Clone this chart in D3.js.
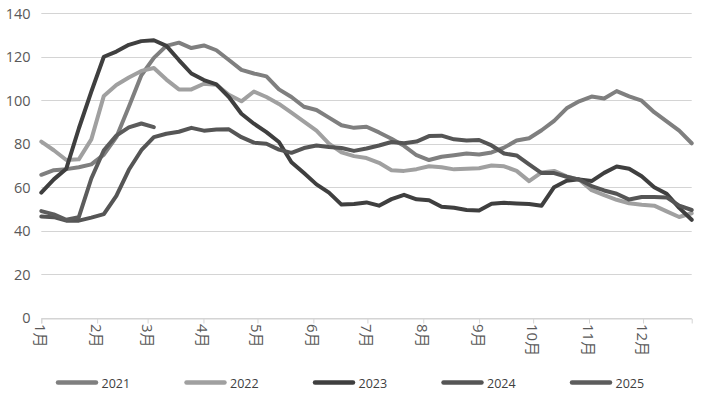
<!DOCTYPE html>
<html>
<head>
<meta charset="utf-8">
<script src="https://cdn.jsdelivr.net/npm/d3@7"></script>
<style>
  body { margin: 0; background: #fff; }
  text { font-family: "Open Sans", "Noto Sans CJK SC", sans-serif; fill: #595959; }
</style>
</head>
<body>
<svg id="canvas" width="703" height="395"></svg>
<script>
// weekly readings, one value per week from the start of the year
const years = ['2021', '2022', '2023', '2024', '2025'];
const s2021 = [65.7, 67.8, 68.3, 69.2, 70.5, 75, 83, 97, 111.5, 119.5, 125, 126.5, 124, 125.2, 123, 118.5,
    114, 112.3, 111, 105, 101.5, 97, 95.5, 92, 88.5, 87.3, 87.8, 85.2, 82.3, 79, 74.7, 72.5, 74, 74.7,
    75.5, 75, 76, 78.2, 81.5, 82.5, 86.2, 90.5, 96.3, 99.5, 101.7, 100.8, 104.2, 101.8, 99.8, 94.5, 90.3, 86, 80.2];
const s2022 = [81, 77, 72.5, 72.8, 82, 102, 107, 110.5, 113.5, 114.8, 109.5, 105, 105, 107.6, 107.1, 102.5,
    99.5, 104, 101.5, 98.3, 94.3, 90.2, 86, 80, 76, 74.3, 73.4, 71.2, 67.8, 67.5, 68.3, 69.6, 69.2, 68.2,
    68.5, 68.7, 70, 69.6, 67.5, 62.8, 66.8, 67.5, 65, 63.5, 58.6, 56.3, 54.2, 52.6, 51.9, 51.5, 48.9, 46.3, 48];
const s2023 = [57.5, 63.6, 68.5, 87, 104, 120, 122.4, 125.5, 127.2, 127.6, 125, 118.5, 112.3, 109.3, 107.3, 101.5,
    93.8, 89.2, 85.3, 80.8, 71.5, 66.5, 61.3, 57.5, 52, 52.3, 53, 51.5, 54.5, 56.5, 54.4, 54, 51, 50.5,
    49.5, 49.3, 52.4, 52.8, 52.5, 52.3, 51.5, 60, 63, 63.6, 62.8, 66.6, 69.5, 68.5, 65, 60, 57, 50.5, 45];
const s2024 = [46.5, 46.2, 44.6, 44.6, 46, 47.6, 56, 68, 77, 83, 84.6, 85.5, 87.3, 86, 86.5, 86.6,
    83, 80.5, 80, 77.3, 75.8, 78, 79.2, 78.5, 78, 76.7, 77.8, 79.2, 80.8, 80.2, 81, 83.5, 83.7, 82,
    81.5, 81.7, 79.2, 75.5, 74.6, 70.5, 66.5, 66.5, 64.8, 63.5, 60.5, 58.5, 57, 54.3, 55.5, 55.5, 55.3, 51.5, 49.5];
const s2025 = [49, 47.5, 45, 46.2, 64, 77, 83.7, 87.5, 89.3, 87.6];

const yTicks = [0, 20, 40, 60, 80, 100, 120, 140];
const monthLabels = ['1月', '2月', '3月', '4月', '5月', '6月', '7月', '8月', '9月', '10月', '11月', '12月'];
const monthStartDays = [0, 31, 59, 90, 120, 151, 181, 212, 243, 273, 304, 334];

const colors = ['#7f7f7f', '#a0a0a0', '#3f3f3f', '#555555', '#5c5c5c'];
const seriesList = [s2021, s2022, s2023, s2024, s2025];

const lastDay = 361;              // axis ends late December
const step = lastDay / 52;        // spacing of the weekly readings

const svg = d3.select('#canvas');

const x = d3.scaleLinear()
    .domain([0, lastDay])
    .range([41.3, 691.7]);
const y = d3.scaleLinear()
    .domain([0, 140])
    .range([317.6, 13.3]);

// gridlines
svg.append('g')
    .selectAll('line')
    .data(yTicks)
    .enter().append('line')
    .attr('x1', x(0))
    .attr('x2', x(lastDay))
    .attr('y1', d => Math.round(y(d)) + 0.5)
    .attr('y2', d => Math.round(y(d)) + 0.5)
    .attr('stroke', '#d4d4d4')
    .attr('stroke-width', 1);

// y labels
svg.append('g')
    .selectAll('text')
    .data(yTicks)
    .enter().append('text')
    .attr('x', 30.5)
    .attr('y', d => y(d))
    .attr('text-anchor', 'end')
    .attr('dominant-baseline', 'central')
    .style('font-size', '14.5px')
    .text(d => d);

// x axis
const xAxis = d3.axisBottom(x)
    .tickValues(monthStartDays)
    .tickSize(5)
    .tickFormat('');
const gx = svg.append('g')
    .attr('transform', `translate(0,${Math.round(y(0)) + 0.5})`)
    .call(xAxis);
gx.select('.domain').attr('stroke', '#d4d4d4');
gx.selectAll('.tick line').attr('stroke', '#d4d4d4');

svg.append('g')
    .selectAll('text')
    .data(monthStartDays)
    .enter().append('text')
    .attr('transform', d => `translate(${x(d)},324) rotate(90)`)
    .attr('text-anchor', 'start')
    .attr('dominant-baseline', 'central')
    .style('font-size', '15px')
    .text((d, i) => monthLabels[i]);

// series lines
const line = d3.line()
    .x((d, i) => x(i * step))
    .y(d => y(d));

svg.append('g')
    .selectAll('path')
    .data(seriesList)
    .enter().append('path')
    .attr('d', d => line(d))
    .attr('fill', 'none')
    .attr('stroke', (d, i) => colors[i])
    .attr('stroke-width', 4)
    .attr('stroke-linejoin', 'round')
    .attr('stroke-linecap', 'round');

// legend
const legend = svg.append('g')
    .selectAll('g')
    .data(years)
    .enter().append('g')
    .attr('transform', (d, i) => `translate(${58 + i * 128.5},382.5)`);
legend.append('line')
    .attr('x1', 0)
    .attr('x2', 38)
    .attr('stroke', (d, i) => colors[i])
    .attr('stroke-width', 4.5)
    .attr('stroke-linecap', 'round');
legend.append('text')
    .attr('x', 43.5)
    .attr('y', 0.5)
    .attr('dominant-baseline', 'central')
    .style('font-size', '12.5px')
    .style('fill', '#404040')
    .text(d => d);
</script>
</body>
</html>
